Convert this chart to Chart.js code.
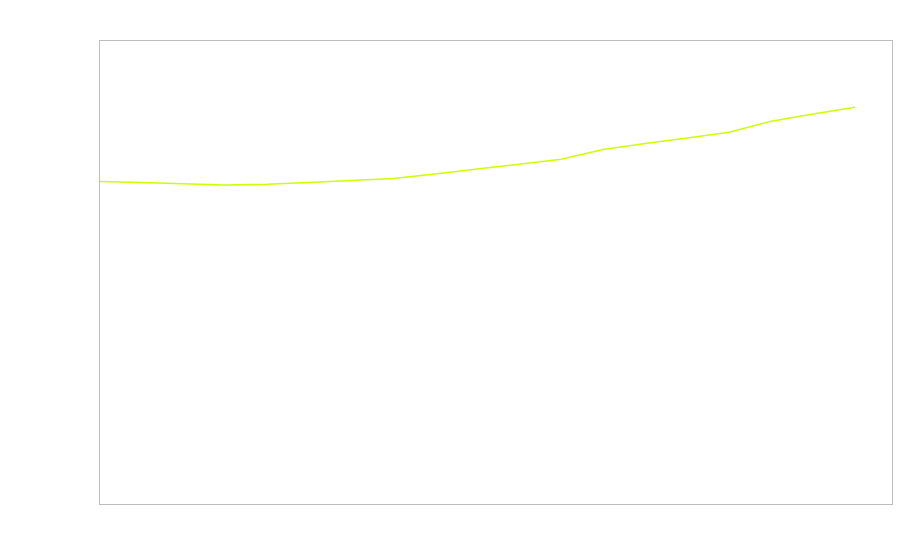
<!DOCTYPE html>
<html>
<head>
<meta charset="utf-8">
<script src="https://cdn.jsdelivr.net/npm/chart.js@4/dist/chart.umd.min.js"></script>
<style>
  html, body { margin: 0; padding: 0; background: #fff; }
  #wrap { width: 900px; height: 560px; }
</style>
</head>
<body>
<div id="wrap"><canvas id="lineChart"></canvas></div>
<script>
// data (no labels shown on the original)
const xIndex = [0, 1, 2, 3, 4, 5, 6, 7, 8, 9, 10, 11, 12, 13, 14, 15, 16, 17, 18];
const seriesValues = [69.5, 69.3, 69.0, 68.75, 68.9, 69.3, 69.7, 70.15, 71.1, 72.2, 73.2, 74.3, 76.4, 77.7, 78.9, 80.1, 82.5, 84.05, 85.5];
const yRange = [0, 100];
const xRange = [0, 18.88];

// box around the plot area
const frameBox = {
    id: 'frameBox',
    afterDraw(chart) {
        const a = chart.chartArea;
        const ctx = chart.ctx;
        ctx.save();
        ctx.strokeStyle = '#bdbdbd';
        ctx.lineWidth = 1;
        ctx.strokeRect(a.left + 0.5, a.top + 0.5, a.right - a.left, a.bottom - a.top);
        ctx.restore();
    }
};

document.addEventListener('DOMContentLoaded', function() {
    const ctx = document.getElementById('lineChart').getContext('2d');
    new Chart(ctx, {
        type: 'line',
        data: {
            datasets: [{
                data: xIndex.map((x, i) => ({ x: x, y: seriesValues[i] })),
                borderColor: '#ccff00',
                borderWidth: 1.5,
                pointRadius: 0,
                tension: 0,
                fill: false
            }]
        },
        options: {
            responsive: true,
            maintainAspectRatio: false,
            animation: false,
            layout: { padding: { left: 99, top: 40, right: 8, bottom: 56 } },
            plugins: {
                legend: { display: false },
                tooltip: { enabled: false }
            },
            scales: {
                x: { type: 'linear', min: xRange[0], max: xRange[1], display: false },
                y: { min: yRange[0], max: yRange[1], display: false }
            }
        },
        plugins: [frameBox]
    });
});
</script>
</body>
</html>
